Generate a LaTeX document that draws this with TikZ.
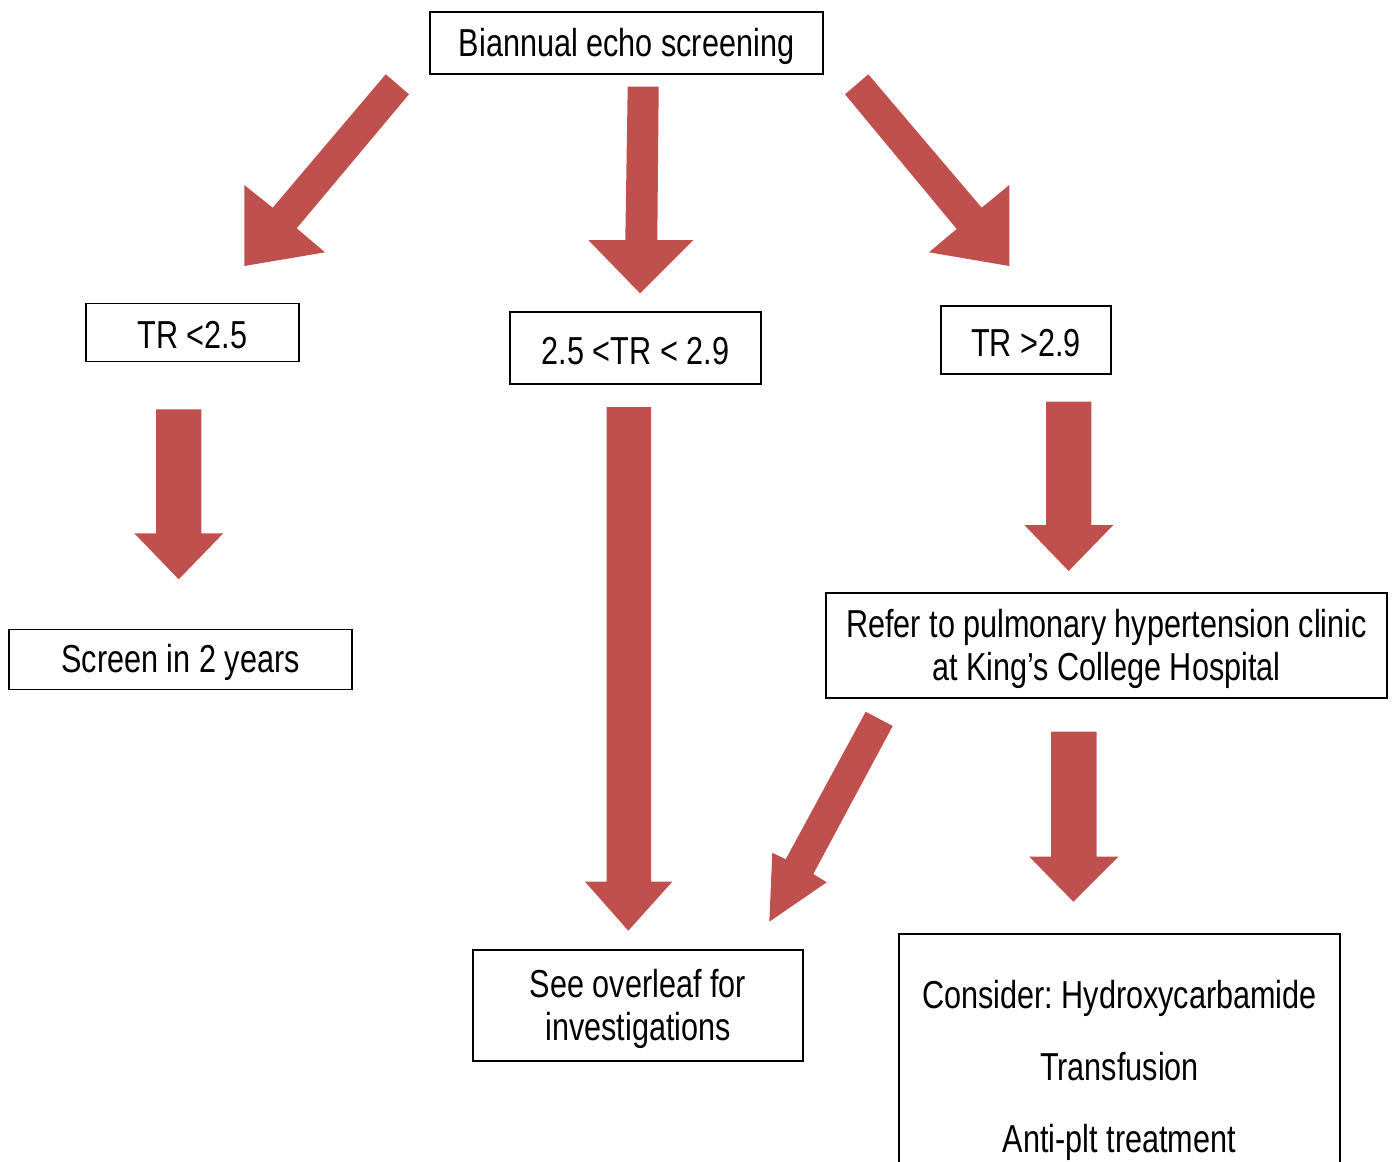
\documentclass[tikz,border=0pt]{standalone}
\usepackage{fontspec}
\setmainfont[FakeStretch=0.785]{Liberation Sans}
\frenchspacing
\definecolor{arrowred}{HTML}{C0504D}
\begin{document}
\begin{tikzpicture}[x=1pt,y=-1pt,
  box/.style={draw=black, line width=1.1pt, fill=white, inner sep=0pt},
  boxtext/.style={inner sep=0pt, align=center, font=\fontsize{39}{43}\selectfont},
  blockarrow/.style={fill=arrowred, draw=none}]
\useasboundingbox (0,0) rectangle (1395,1162);
% boxes
\node[box, minimum width=393, minimum height=62] (bi) at (626.5,43) {};
\node[box, minimum width=213, minimum height=58] (lo) at (192.5,332.5) {};
\node[box, minimum width=251, minimum height=72] (mid) at (635.5,348) {};
\node[box, minimum width=170, minimum height=68] (hi) at (1026,340) {};
\node[box, minimum width=343, minimum height=60] (scr) at (180.5,659.5) {};
\node[box, minimum width=561, minimum height=105] (ref) at (1106.5,645.5) {};
\node[box, minimum width=330, minimum height=111] (ovl) at (638,1005.5) {};
\node[box, minimum width=441, minimum height=266] (con) at (1119.5,1067) {};
% texts
\node[boxtext] (biT) at ([yshift=-3pt]bi.center) {Biannual echo screening};
\node[boxtext] (loT) at ([yshift=-3pt]lo.center) {TR <2.5};
\node[boxtext] (midT) at ([yshift=-3pt]mid.center) {2.5 <TR < 2.9};
\node[boxtext] (hiT) at ([yshift=-3pt]hi.center) {TR >2.9};
\node[boxtext] (scrT) at ([yshift=-3pt]scr.center) {Screen in 2 years};
\node[boxtext] (refT) at ([yshift=-3pt]ref.center) {Refer to pulmonary hypertension clinic\\at King’s College Hospital};
\node[boxtext] (ovlT) at ([yshift=-3pt]ovl.center) {See overleaf for\\investigations};
\node[boxtext, font=\fontsize{39}{72}\selectfont] (conT) at ([yshift=-3pt]con.center) {Consider: Hydroxycarbamide\\Transfusion\\Anti-plt treatment};
% arrows
\fill[blockarrow] (385.7,74.3) -- (409,94.3) -- (296.7,228.3) -- (325,252.3) -- (244.3,266) -- (244.3,185) -- (272.7,207.7) -- cycle;
\fill[blockarrow] (627.7,86.7) -- (658.7,86.7) -- (657.3,240) -- (693.3,240) -- (640,293.3) -- (588.3,240) -- (625.3,240) -- cycle;
\fill[blockarrow] (868.3,74.3) -- (845,94.3) -- (956.7,229) -- (929,252.3) -- (1009.3,266) -- (1009.3,185) -- (981.7,207.7) -- cycle;
\fill[blockarrow] (156,409.3) -- (201.3,409.3) -- (201.3,533.3) -- (223.3,533.3) -- (178.7,579.3) -- (134.3,533.3) -- (156,533.3) -- cycle;
\fill[blockarrow] (606.7,407) -- (651,407) -- (651,881.7) -- (672.3,881.7) -- (628.3,930.7) -- (585,881.7) -- (606.7,881.7) -- cycle;
\fill[blockarrow] (1046,401.7) -- (1091.3,401.7) -- (1091.3,525) -- (1113.3,525) -- (1068.7,571) -- (1024.3,525) -- (1046,525) -- cycle;
\fill[blockarrow] (865.7,711.7) -- (892.7,726) -- (813.3,874) -- (826.7,882.3) -- (769.3,921.7) -- (772.3,852.7) -- (785.7,859.3) -- cycle;
\fill[blockarrow] (1051,731.7) -- (1096.7,731.7) -- (1096.7,856.7) -- (1118.3,856.7) -- (1073.3,901.7) -- (1029.3,856.7) -- (1051,856.7) -- cycle;
\end{tikzpicture}
\end{document}
